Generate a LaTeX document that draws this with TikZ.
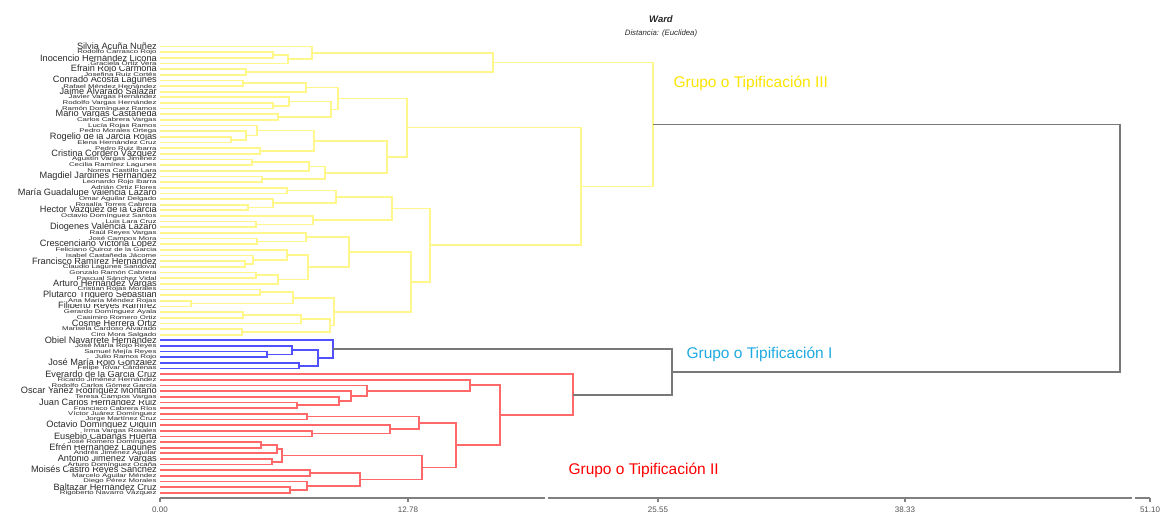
\documentclass[tikz,border=0pt]{standalone}
\usepackage{fontspec}
\setmainfont{Liberation Sans}
\usetikzlibrary{calc}

\definecolor{ylw}{RGB}{255,247,140}
\definecolor{blu}{RGB}{80,80,255}
\definecolor{rd}{RGB}{255,105,105}
\definecolor{gry}{RGB}{120,120,120}
\definecolor{axisgray}{RGB}{128,128,128}
\definecolor{lbl}{RGB}{40,40,40}
\definecolor{gthree}{RGB}{250,228,0}
\definecolor{gone}{RGB}{30,170,225}
\definecolor{gtwo}{RGB}{255,0,0}

% join two clusters at distance x: parent sits midway between the children
\newcommand\dmerge[5]{%
  \path let \p1=($(#2)!0.5!(#3)$) in coordinate (#1) at (#4pt,\y1);
  \draw[link,#5] (#2) -- (#2 -| #1) -- (#3 -| #1) -- (#3);
}

\tikzset{
  link/.style={line width=1.7pt, line join=miter},
  biglbl/.style={anchor=east, inner sep=0pt, text=lbl, font=\fontsize{9.2}{9.2}\selectfont},
  smalllbl/.style={anchor=east, inner sep=0.3pt, fill=white, text=lbl, font=\fontsize{5.4}{5.4}\selectfont},
  axisline/.style={draw=axisgray, line width=1.3pt},
  ticklbl/.style={font=\fontsize{8}{8}\selectfont, text=lbl!80, anchor=north},
  grouplbl/.style={anchor=west, font=\fontsize{15.5}{15.5}\selectfont}
}

\begin{document}
\begin{tikzpicture}[x=1pt,y=-1pt]
\useasboundingbox (0,0) rectangle (1173,513);

% leaves
\foreach \i in {1,...,80}{\coordinate (L\i) at (160,{46.5+(\i-1)*5.65});}

% leaf names (large)
\foreach \i/\t in {1/Silvia Acuña Nuñez,3/Inocencio Hernández Licona,5/Efrain Rojo Carmona,
  7/Conrado Acosta Lagunes,9/Jaime Alvarado Salazar,13/Mario Vargas Castañeda,
  17/Rogelio de la Jarcia Rojas,20/Cristina Cordero Vázquez,24/Magdiel Jardines Hernández,
  27/María Guadalupe Valencia Lázaro,30/Hector Vazquez de la Garcia,33/Diogenes Valencia Lázaro,
  36/Crescenciano Victoria López,39/Francisco Ramírez Hernández,
  43/Arturo Hernández Vargas,45/Plutarco Triguero Sebastián,47/Filiberto Reyes Ramírez,
  50/Cosme Herrera Ortiz,53/Obiel Navarrete Hernández,57/José María Rojo González,
  59/Everardo de la Garcia Cruz,62/Oscar Yañez Rodríguez Montaño,
  64/Juan Carlos Hernández Ruiz,68/Octavio Domínguez Olguín,70/Eusebio Cabañas Huerta,
  72/Efrén Hernández Lagunes,74/Antonio Jiménez Vargas,76/Moisés Castro Reyes Sánchez,
  79/Baltazar Hernández Cruz}
  {\node[biglbl] (N\i) at ($(L\i)+(-3,0)$) {\t};}

% leaf names (small)
\foreach \i/\t in {2/Rodolfo Carrasco Rojo,4/Graciela Ortiz Vera,6/Josefina Ruiz Cortés,
  8/Rafael Méndez Hernández,10/Javier Vargas Hernández,11/Rodolfo Vargas Hernández,
  12/Ramón Domínguez Ramos,14/Carlos Cabrera Vargas,15/Lucía Rojas Ramos,
  16/Pedro Morales Ortega,18/Elena Hernández Cruz,19/Pedro Ruiz Ibarra,
  21/Agustín Vargas Jiménez,22/Cecilia Ramírez Lagunes,23/Norma Castillo Lara,
  25/Leonardo Rojo Ibarra,26/Adrián Ortiz Flores,28/Omar Aguilar Delgado,
  29/Rosalía Torres Cabrera,31/Octavio Domínguez Santos,32/Luis Lara Cruz,
  34/Raúl Reyes Vargas,35/José Campos Mora,37/Feliciano Quiroz de la Garcia,
  38/Isabel Castañeda Jácome,
  40/Claudio Lagunes Sandoval,41/Gonzalo Ramón Cabrera,42/Pascual Sánchez Vidal,
  44/Cristian Rojas Morales,46/Ana María Méndez Rojas,48/Gerardo Domínguez Ayala,
  49/Casimiro Romero Ortiz,51/Marisela Cardoso Alvarado,52/Ciro Mora Salgado,
  54/José María Rojo Reyes,55/Samuel Mejía Reyes,56/Julio Ramos Rojo,
  58/Felipe Tovar Cárdenas,60/Ricardo Jiménez Hernández,61/Rodolfo Carlos Gómez García,
  63/Teresa Campos Vargas,
  65/Francisco Cabrera Ríos,66/Víctor Juárez Domínguez,67/Jorge Martínez Cruz,
  69/Irma Vargas Rosales,71/José Romero Domínguez,73/Andrés Jiménez Aguilar,
  75/Arturo Domínguez Ocaña,77/Marcelo Aguilar Méndez,78/Diego Pérez Morales,
  80/Rigoberto Navarro Vázquez}
  {\node[smalllbl] (N\i) at ($(L\i)+(-3,0)$) {\scalebox{1.45}[1]{\t}};}

% cluster III, upper part
\dmerge{a1}{L2}{L3}{272.7}{ylw}
\dmerge{a2}{a1}{L4}{288.3}{ylw}
\dmerge{a3}{L1}{a2}{312.3}{ylw}
\dmerge{a4}{L5}{L6}{246}{ylw}
\dmerge{T1}{a3}{a4}{493.3}{ylw}

\dmerge{b1}{L7}{L8}{243.3}{ylw}
\dmerge{b2}{b1}{L9}{306}{ylw}
\dmerge{b3}{L11}{L12}{272.7}{ylw}
\dmerge{b4}{L10}{b3}{289}{ylw}
\dmerge{b5}{L13}{L14}{278.3}{ylw}
\dmerge{b6}{b4}{b5}{330.7}{ylw}
\dmerge{b7}{b2}{b6}{337.7}{ylw}
\dmerge{b8}{L17}{L18}{231}{ylw}
\dmerge{b9}{L16}{b8}{246}{ylw}
\dmerge{b10}{L15}{b9}{257.3}{ylw}
\dmerge{b11}{L19}{L20}{260}{ylw}
\dmerge{b12}{b10}{b11}{314.3}{ylw}
\dmerge{b13}{L21}{L22}{251.7}{ylw}
\dmerge{b14}{b13}{L23}{309.3}{ylw}
\dmerge{b15}{L24}{L25}{262.3}{ylw}
\dmerge{b16}{b14}{b15}{325}{ylw}
\dmerge{b17}{b12}{b16}{386.7}{ylw}
\dmerge{T2}{b7}{b17}{406.7}{ylw}

% cluster III, lower part
\dmerge{c1}{L26}{L27}{286.7}{ylw}
\dmerge{c2}{L29}{L30}{248.3}{ylw}
\dmerge{c3}{L28}{c2}{273.3}{ylw}
\dmerge{c4}{c1}{c3}{336}{ylw}
\dmerge{c5}{L32}{L33}{256}{ylw}
\dmerge{c6}{L31}{c5}{313.3}{ylw}
\dmerge{c7}{c4}{c6}{391.7}{ylw}
\dmerge{c8}{L35}{L36}{257.3}{ylw}
\dmerge{c9}{L34}{c8}{306}{ylw}
\dmerge{c10}{L39}{L40}{245}{ylw}
\dmerge{c11}{L38}{c10}{253.3}{ylw}
\dmerge{c12}{L37}{c11}{286.7}{ylw}
\dmerge{c13}{L41}{L42}{256}{ylw}
\dmerge{c14}{c13}{L43}{278.3}{ylw}
\dmerge{c15}{c12}{c14}{308.3}{ylw}
\dmerge{c16}{c9}{c15}{349.3}{ylw}
\dmerge{c17}{L44}{L45}{260}{ylw}
\dmerge{c18}{L46}{L47}{190.7}{ylw}
\dmerge{c19}{c17}{c18}{293.3}{ylw}
\dmerge{c20}{L48}{L49}{243.3}{ylw}
\dmerge{c21}{c20}{L50}{300.7}{ylw}
\dmerge{c22}{L51}{L52}{241.7}{ylw}
\dmerge{c23}{c21}{c22}{330}{ylw}
\dmerge{c24}{c19}{c23}{334.3}{ylw}
\dmerge{c25}{c16}{c24}{411}{ylw}
\dmerge{Bt}{c7}{c25}{430}{ylw}

\dmerge{Y2}{T2}{Bt}{581}{ylw}
\dmerge{Yr}{T1}{Y2}{653}{ylw}

% cluster I
\dmerge{d1}{L55}{L56}{267.3}{blu}
\dmerge{d2}{L54}{d1}{292.3}{blu}
\dmerge{d3}{L57}{L58}{299}{blu}
\dmerge{d4}{d2}{d3}{318.3}{blu}
\dmerge{Bl}{L53}{d4}{332.7}{blu}

% cluster II
\dmerge{r1}{L64}{L65}{296.7}{rd}
\dmerge{r2}{L63}{r1}{339.3}{rd}
\dmerge{r3}{L62}{r2}{351}{rd}
\dmerge{r4}{L61}{r3}{367.3}{rd}
\dmerge{r5}{L60}{r4}{470}{rd}
\dmerge{r6}{L66}{L67}{307.3}{rd}
\dmerge{r7}{L69}{L70}{311.7}{rd}
\dmerge{r8}{L68}{r7}{390}{rd}
\dmerge{r9}{r6}{r8}{419.3}{rd}
\dmerge{r10}{L71}{L72}{261}{rd}
\dmerge{r11}{r10}{L73}{276.7}{rd}
\dmerge{r12}{L74}{L75}{271.7}{rd}
\dmerge{r13}{r11}{r12}{282.3}{rd}
\dmerge{r14}{L76}{L77}{310}{rd}
\dmerge{r15}{L79}{L80}{290}{rd}
\dmerge{r16}{L78}{r15}{306.7}{rd}
\dmerge{r17}{r14}{r16}{360}{rd}
\dmerge{r18}{r13}{r17}{421.7}{rd}
\dmerge{r19}{r9}{r18}{456}{rd}
\dmerge{r20}{r5}{r19}{500}{rd}
\dmerge{Rd}{L59}{r20}{573.3}{rd}

% upper joins
\dmerge{G}{Bl}{Rd}{672}{gry}
\dmerge{Rt}{Yr}{G}{1120}{gry}

% distance axis
\coordinate (t0) at (160,498);
\coordinate (t1) at (408,498);
\coordinate (t2) at (658,498);
\coordinate (t3) at (905,498);
\coordinate (t4) at (1150,498);
\coordinate (brk1) at (545,498);
\coordinate (brk2) at (547.5,498);
\coordinate (brk3) at (1131.5,498);
\coordinate (brk4) at (1134.5,498);
\draw[axisline] (t0) -- (brk1);
\draw[axisline] (brk2) -- (brk3);
\draw[axisline] (brk4) -- (t4);
\foreach \k in {0,...,4}{\draw[axisline] (t\k) -- ++(0,3.5);}
\node[ticklbl] (v0) at ($(t0)+(0,5.5)$) {0.00};
\node[ticklbl] (v1) at ($(t1)+(0,5.5)$) {12.78};
\node[ticklbl] (v2) at ($(t2)+(0,5.5)$) {25.55};
\node[ticklbl] (v3) at ($(t3)+(0,5.5)$) {38.33};
\node[ticklbl] (v4) at ($(t4)+(0,5.5)$) {51.10};

% headings
\node[font=\bfseries\itshape\fontsize{9.5}{9.5}\selectfont, text=lbl] (ttl) at (661,19) {Ward};
\node[font=\itshape\fontsize{7.8}{7.8}\selectfont, text=lbl] (sub) at (661,33) {Distancia: (Euclidea)};

% group names
\node[grouplbl, text=gthree] (g3) at (670,83) {Grupo o Tipificación III};
\node[grouplbl, text=gone] (g1) at (683,354) {Grupo o Tipificación I};
\node[grouplbl, text=gtwo] (g2) at (565,470) {Grupo o Tipificación II};
\end{tikzpicture}
\end{document}
